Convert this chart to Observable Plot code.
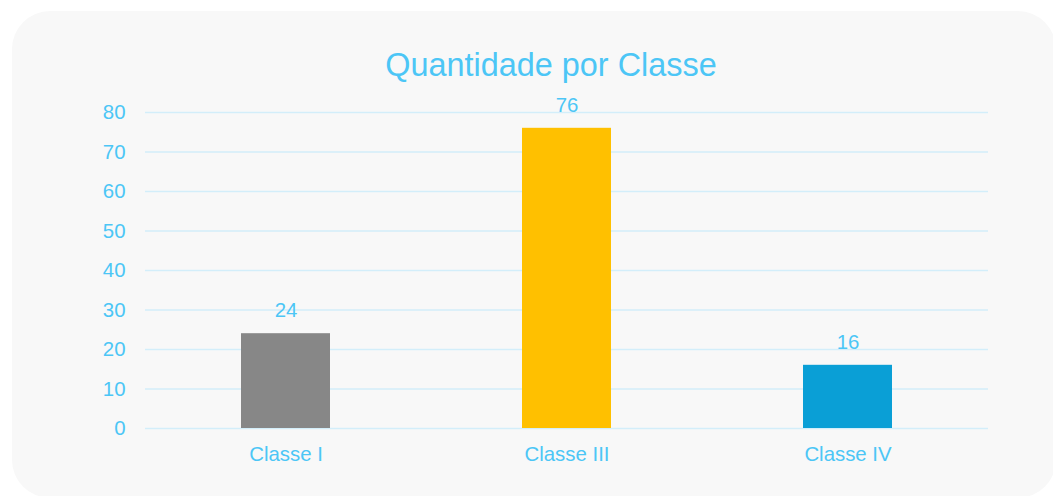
<!DOCTYPE html>
<html>
<head>
<meta charset="utf-8">
<script src="https://cdn.jsdelivr.net/npm/d3@7"></script>
<script src="https://cdn.jsdelivr.net/npm/@observablehq/plot@0.6"></script>
<style>
  html, body { margin: 0; padding: 0; background: #ffffff; width: 1053px; height: 496px; overflow: hidden; }
  #card { position: absolute; left: 12px; top: 11px; width: 1044px; height: 487px; border-radius: 38px; background: #f8f8f8; }
  #title { position: absolute; left: 0; top: 45px; width: 1102px; text-align: center; font-family: "Liberation Sans", Arial, sans-serif; font-size: 32.4px; color: #4cc6f6; line-height: 40px; }
  #chart { position: absolute; left: 0; top: 0; }
</style>
</head>
<body>
<div id="card"></div>
<div id="title">Quantidade por Classe</div>
<div id="chart"></div>
<script>
const categories = ["Classe I", "Classe III", "Classe IV"];
const values = [24, 76, 16];
const barColors = ["#878787", "#ffc000", "#0a9fd6"];
const yTicks = [0, 10, 20, 30, 40, 50, 60, 70, 80];

const data = categories.map((c, i) => ({cat: c, value: values[i], color: barColors[i]}));
const textColor = "#4cc6f6";

const chart = Plot.plot({
  width: 1053,
  height: 496,
  marginLeft: 145,
  marginRight: 65,
  marginTop: 112,
  marginBottom: 68,
  style: {background: "transparent", color: textColor, fontFamily: "'Liberation Sans', Arial, sans-serif", fontSize: "20px", overflow: "visible"},
  x: {domain: categories, padding: 0, label: null},
  y: {domain: [0, 80], label: null},
  color: {type: "identity"},
  marks: [
    Plot.gridY(yTicks, {stroke: "#d3eefa", strokeOpacity: 1, strokeWidth: 1.5}),
    Plot.barY(data, {x: "cat", y: "value", fill: "color", insetLeft: 96, insetRight: 96}),
    Plot.text(data, {x: "cat", y: "value", text: d => String(d.value), dy: -23, fill: textColor, fontSize: 20.4}),
    Plot.axisY(yTicks, {tickSize: 0, tickPadding: 20, fontSize: 20.4, label: null, fill: textColor}),
    Plot.axisX({tickSize: 0, tickPadding: 18, fontSize: 20.4, label: null, fill: textColor})
  ]
});
document.getElementById("chart").appendChild(chart);
</script>
</body>
</html>
